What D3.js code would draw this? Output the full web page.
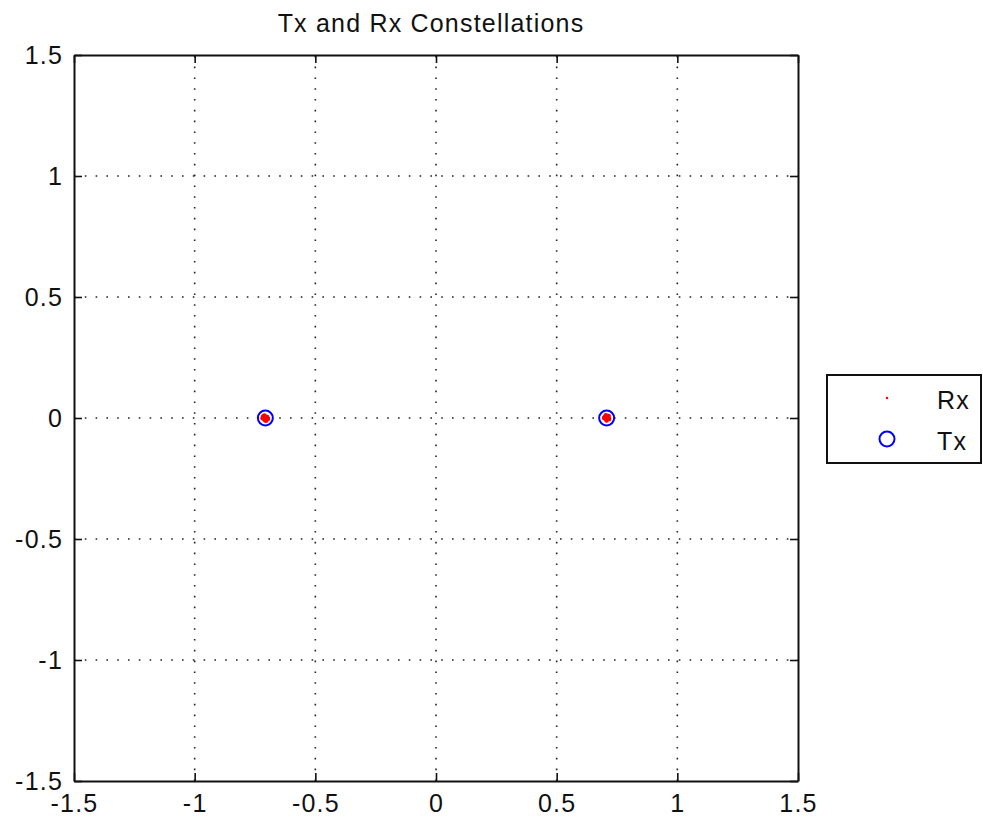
<!DOCTYPE html>
<html><head><meta charset="utf-8">
<script src="https://cdn.jsdelivr.net/npm/d3@7"></script>
<style>
html,body{margin:0;padding:0;background:#fff;}
text{font-family:"Liberation Sans",Arial,sans-serif;fill:#111;}
</style></head>
<body>
<svg id="c" width="983" height="818"></svg>
<script>
const title = "Tx and Rx Constellations";
const tickValues = [-1.5, -1, -0.5, 0, 0.5, 1, 1.5];
const tickLabels = ["-1.5", "-1", "-0.5", "0", "0.5", "1", "1.5"];
const txI = [-0.7071, 0.7071];
const txQ = [0, 0];
const rxI = [-0.716, -0.708, -0.700, -0.711, -0.697, -0.718, -0.704, -0.713, 0.700, 0.707, 0.715, 0.704, 0.717, 0.697, 0.711, 0.708];
const rxQ = [0.006, -0.009, 0.003, 0.010, -0.004, -0.001, -0.011, 0.000, 0.004, -0.010, 0.008, 0.011, -0.004, 0.000, -0.002, 0.006];
const legendNames = ["Rx", "Tx"];

const svg = d3.select("#c");
const L = 74, R = 798, T = 55, B = 781;
const x = d3.scaleLinear().domain([-1.5, 1.5]).range([L, R]);
const y = d3.scaleLinear().domain([-1.5, 1.5]).range([B, T]);
const fmt = d => tickLabels[tickValues.indexOf(d)];
const FS = 25, LS = "1.2px";

// grid
const grid = svg.append("g").attr("stroke", "#222").attr("stroke-width", 1.6).attr("stroke-dasharray", "1.6,9.2");
tickValues.slice(1, -1).forEach(v => {
  grid.append("line").attr("x1", x(v)).attr("x2", x(v)).attr("y1", B).attr("y2", T);
  grid.append("line").attr("y1", y(v)).attr("y2", y(v)).attr("x1", L).attr("x2", R);
});

// axes
const ax = svg.append("g");
const axB = ax.append("g").attr("transform", `translate(0,${B})`)
  .call(d3.axisBottom(x).tickValues(tickValues).tickFormat(fmt).tickSizeInner(-8).tickSizeOuter(0).tickPadding(14));
const axL = ax.append("g").attr("transform", `translate(${L},0)`)
  .call(d3.axisLeft(y).tickValues(tickValues).tickFormat(fmt).tickSizeInner(-8).tickSizeOuter(0).tickPadding(11));
const axT = ax.append("g").attr("transform", `translate(0,${T})`)
  .call(d3.axisTop(x).tickValues(tickValues).tickFormat("").tickSizeInner(-8).tickSizeOuter(0));
const axR = ax.append("g").attr("transform", `translate(${R},0)`)
  .call(d3.axisRight(y).tickValues(tickValues).tickFormat("").tickSizeInner(-8).tickSizeOuter(0));
ax.selectAll(".domain").attr("stroke", "#111").attr("stroke-width", 2);
ax.selectAll(".tick line").attr("stroke", "#111").attr("stroke-width", 1.6);
ax.selectAll(".tick text").attr("font-size", FS).attr("letter-spacing", LS)
  .attr("font-family", "'Liberation Sans',Arial,sans-serif").attr("fill", "#111");
axB.selectAll(".tick text").attr("dy", "0.68em");
axL.selectAll(".tick text").attr("dy", "0.33em");

// Tx circles
svg.append("g").selectAll("circle").data(txI).join("circle")
  .attr("cx", (d, i) => x(d)).attr("cy", (d, i) => y(txQ[i])).attr("r", 7.5)
  .attr("fill", "none").attr("stroke", "#0000ff").attr("stroke-width", 2);
// Rx dots
svg.append("g").selectAll("circle").data(rxI).join("circle")
  .attr("cx", (d, i) => x(d)).attr("cy", (d, i) => y(rxQ[i])).attr("r", 2.4)
  .attr("fill", "#ff0000");

// title
svg.append("text").attr("x", (L + R) / 2 - 5).attr("y", 32).attr("text-anchor", "middle")
  .attr("font-size", FS).attr("letter-spacing", LS).text(title);

// legend
const lg = svg.append("g");
lg.append("rect").attr("x", 827).attr("y", 375).attr("width", 154).attr("height", 88)
  .attr("fill", "#fff").attr("stroke", "#111").attr("stroke-width", 2);
lg.append("circle").attr("cx", 887).attr("cy", 398).attr("r", 1.2).attr("fill", "#ff0000");
lg.append("circle").attr("cx", 887).attr("cy", 439).attr("r", 7.5).attr("fill", "none").attr("stroke", "#0000ff").attr("stroke-width", 2);
lg.selectAll("text.lt").data(legendNames).join("text").attr("class", "lt")
  .attr("x", 937).attr("y", (d, i) => 409 + i * 41).attr("font-size", FS).attr("letter-spacing", LS).text(d => d);
</script>
</body></html>
